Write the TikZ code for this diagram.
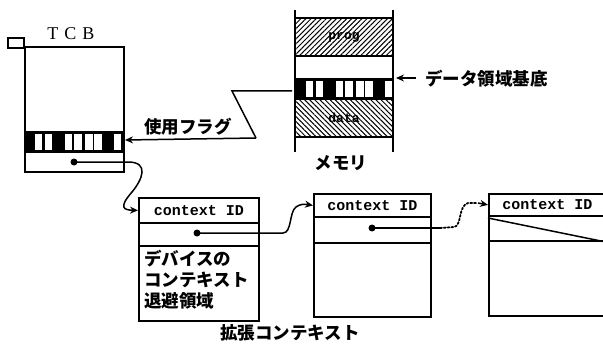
\documentclass[tikz,border=0pt]{standalone}
\usepackage{fontspec}
\setmainfont{Liberation Serif}
\setmonofont{Liberation Mono}
\newfontfamily\jp{Noto Sans CJK JP}
\usetikzlibrary{patterns.meta,arrows.meta}
\tikzset{
  cell/.style={draw, line width=1.8pt, inner sep=0pt, anchor=north west, rectangle},
  conn/.style={line width=1.5pt, -{Stealth[length=8pt,width=7pt]}},
  jtext/.style={font=\jp\bfseries\fontsize{17.5}{21}\selectfont, inner sep=0pt},
  idtext/.style={font=\ttfamily\bfseries\fontsize{15}{15}\selectfont},
  dotmark/.style={circle, fill, inner sep=0pt, minimum size=7pt},
  memline/.style={line width=1.8pt},
  hatchne/.style={pattern={Lines[angle=45,distance=3.6pt,line width=1pt]}},
  hatchnw/.style={pattern={Lines[angle=-45,distance=3.6pt,line width=1pt]}}
}
\newcommand\mybits[3]{% x0, ytop, ybottom
  \fill (#1,#2) rectangle ({#1+99},#3);
  \foreach \a/\b in {11/18,21/28,41/48,50/58,61/69,70/78,90/97}
    \fill[white] ({#1+\a},{#2+2}) rectangle ({#1+\b},{#3-2});
}
\begin{document}
\begin{tikzpicture}[x=1pt,y=-1pt]
\useasboundingbox (0,0) rectangle (603,345);
\clip (0,0) rectangle (603,345);
\fill[white] (0,0) rectangle (603,345);

% ---------- TCB ----------
\node[font=\fontsize{18}{18}\selectfont, inner sep=0pt] (tcblabel) at (71,34) {T\hspace{6pt}C\hspace{6pt}B};
\draw[line width=1.8pt] (8,38) rectangle (24,48);
\mybits{24}{132}{152}
\node[cell, minimum width=99pt, minimum height=125pt] (tcb) at (24,46) {};
\draw[line width=1.8pt] (24,132) -- (123,132) (24,152) -- (123,152);
\node[dotmark] (d0) at (74,162) {};

% ---------- Memory ----------
\fill[hatchne] (295,18) rectangle (393,56);
\fill[hatchnw] (295,99) rectangle (393,137);
\mybits{295}{79}{99}
\draw[memline] (295,10) -- (295,152) (393,10) -- (393,152);
\draw[memline] (295,18) -- (393,18) (295,56) -- (393,56) (295,79) -- (393,79)
  (295,99) -- (393,99) (295,137) -- (393,137);
\node[font=\ttfamily\bfseries\fontsize{13}{13}\selectfont, inner sep=0pt] (prog) at (344,37) {prog};
\node[font=\ttfamily\bfseries\fontsize{13}{13}\selectfont, inner sep=0pt] (data) at (344,118) {data};
\node[jtext] (mem) at (341,163) {メモリ};

% data base arrow
\coordinate (dbtail) at (416,78);
\coordinate (dbtip) at (396,78);
\draw[conn] (dbtail) -- (dbtip);
\node[jtext, anchor=west] (dblabel) at (425,79) {データ領域基底};

% use flag
\coordinate (f0) at (292,91);
\coordinate (f1) at (232,91);
\coordinate (f2) at (256,138);
\coordinate (ftip) at (125,140);
\draw[line width=1.5pt, line join=miter] (f0) -- (f1) -- (f2);
\draw[conn] (f2) -- (ftip);
\node[jtext] (flag) at (188,127) {使用フラグ};

% ---------- context boxes ----------
\node[cell, minimum width=120pt, minimum height=25pt, idtext] (c1h) at (138,197) {context ID};
\node[cell, minimum width=120pt, minimum height=23pt] (c1p) at (138,222) {};
\node[cell, minimum width=120pt, minimum height=75pt] (c1b) at (138,245) {};
\node[jtext, anchor=north west, align=left] (c1t) at (144,250) {デバイスの\\コンテキスト\\退避領域};
\node[dotmark] (d1) at (197,233) {};

\node[cell, minimum width=117pt, minimum height=23pt, idtext] (c2h) at (313,193) {context ID};
\node[cell, minimum width=117pt, minimum height=26pt] (c2p) at (313,216) {};
\node[cell, minimum width=117pt, minimum height=74pt] (c2b) at (313,242) {};
\node[dotmark] (d2) at (372,228) {};

\node[cell, minimum width=117pt, minimum height=22pt, idtext] (c3h) at (488,193) {context ID};
\node[cell, minimum width=117pt, minimum height=25pt] (c3p) at (488,215) {};
\node[cell, minimum width=117pt, minimum height=75pt] (c3b) at (488,240) {};
\draw[line width=1.5pt] ([yshift=-3pt]c3p.north west) -- ([xshift=-2pt]c3p.south east);

\node[jtext] (ext) at (290,333) {拡張コンテキスト};

% ---------- connectors ----------
\draw[conn] (d0.center) -- (128,162) .. controls (150,162) and (142,180) .. (132,192)
  .. controls (118,208) and (124,210) .. (c1h.west);
\draw[conn] (d1.center) -- (283,233) .. controls (292,233) and (289,212) .. (296,207)
  .. controls (300,204) and (304,204) .. (c2h.west);
\draw[line width=1.5pt] (d2.center) -- (440,228);
\draw[line width=1.8pt, dotted, line cap=round] (440,228) -- (454,227)
  .. controls (462,226) and (458,206) .. (468,203) -- (476,203);
\coordinate (c3in) at (478,203);
\draw[conn] (c3in) -- (c3h.west);
\end{tikzpicture}
\end{document}
